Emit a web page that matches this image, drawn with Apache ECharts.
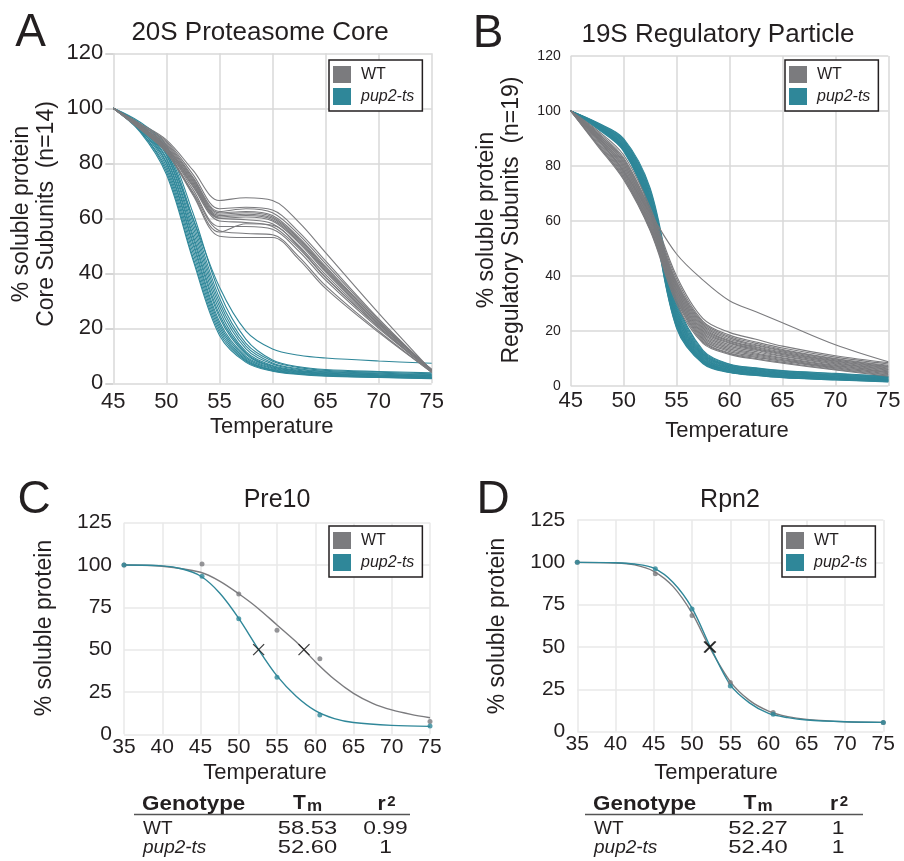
<!DOCTYPE html>
<html><head><meta charset="utf-8">
<script src="https://cdn.jsdelivr.net/npm/echarts@6/dist/echarts.min.js"></script>
<style>html,body{margin:0;padding:0;background:#fff}#c{width:904px;height:861px}</style>
</head><body><div id="c"></div>
<script>
const FONT = '"Liberation Sans", Arial, Helvetica, sans-serif';
const GRAY = '#7b7b7e', TEAL = '#2f8799', INK = '#231f20';

// ---------- Panel A: 20S core subunits ----------
const tempA = [45, 47.5, 50, 52.5, 55, 57.5, 60, 62.5, 65, 70, 75];
const coreWT = [
  [100, 94.5, 88.5, 77.5, 66.5, 67.5, 66.5, 58.5, 47.5, 25.5, 4.5],
  [100, 94, 88, 76, 63.5, 64, 63, 55, 44.5, 23.5, 4.5],
  [100, 94, 87.5, 75, 62.5, 63.5, 62, 54, 43.5, 23, 4.5],
  [100, 93.5, 87, 74.5, 62, 62.5, 61, 53, 42.5, 22.5, 4.5],
  [100, 93.5, 86.5, 74, 61.5, 62, 60.5, 52.5, 42, 22.5, 5],
  [100, 93.5, 86, 73.5, 61, 61.5, 60, 52, 41.5, 22, 5],
  [100, 93, 86, 73, 60.5, 61, 59.5, 51.5, 41, 21.5, 5],
  [100, 93, 85.5, 72.5, 60, 60.5, 59, 51, 40.5, 21.5, 5],
  [100, 93, 85.5, 72, 60, 59.5, 58, 50, 39.5, 21, 4.5],
  [100, 93, 85, 71.5, 59, 58.5, 57, 49, 38.5, 20.5, 4.5],
  [100, 92.5, 85, 70.5, 57, 57, 56, 48, 37.5, 20, 4.5],
  [100, 92.5, 84.5, 69, 55, 58, 57.5, 49.5, 38.5, 20.5, 4],
  [100, 92.5, 84, 69.5, 55.5, 54.5, 54, 46, 35.5, 19, 4],
  [100, 92.5, 84, 68.5, 53.5, 53, 53, 45, 34.5, 18.5, 4]
];
const corePup = [
  [100, 95, 86.5, 62, 33, 16, 8.5, 6, 5, 4.3, 3.8],
  [100, 94.5, 85.5, 60, 31, 14.5, 8, 5.7, 4.7, 4, 3.5],
  [100, 94, 84.5, 58.5, 29.5, 13.5, 7.4, 5.3, 4.4, 3.7, 3.2],
  [100, 94, 83.5, 57, 28, 12.5, 7, 5, 4.2, 3.5, 3],
  [100, 93.5, 83, 55.5, 26.5, 11.5, 6.5, 4.7, 3.9, 3.3, 2.8],
  [100, 93.5, 82, 54, 25, 11, 6.2, 4.5, 3.7, 3.1, 2.6],
  [100, 93, 81.5, 53, 24, 10.5, 5.9, 4.3, 3.5, 2.9, 2.4],
  [100, 93, 80.5, 51.5, 22.5, 9.8, 5.6, 4.1, 3.4, 2.8, 2.3],
  [100, 92.5, 80, 50.5, 21.5, 9.3, 5.3, 3.9, 3.2, 2.6, 2.1],
  [100, 92.5, 79, 49, 20.5, 8.8, 5, 3.7, 3.0, 2.5, 2],
  [100, 92, 78, 47.5, 19.5, 8.4, 4.8, 3.5, 2.9, 2.3, 1.9],
  [100, 92, 77, 46, 18.5, 8, 4.6, 3.4, 2.8, 2.2, 1.8],
  [100, 91.5, 76, 45, 17.5, 7.6, 4.4, 3.2, 2.6, 2.1, 1.7],
  [100, 94, 84, 60, 35, 19, 12.5, 10.2, 9.2, 8.1, 7.3]
];

// ---------- Panel B: 19S regulatory particle ----------
const tempB = [45, 47.5, 50, 52.5, 55, 57.5, 60, 62.5, 65, 70, 75];
const regWT = [
  [100, 90, 78, 63, 48, 38.5, 31, 27, 23, 15, 8.8],
  [100, 93, 84, 65, 40, 24.5, 19.5, 17, 14.5, 11, 8.5],
  [100, 92.5, 83, 64, 39, 23.5, 18.5, 16, 13.8, 10.5, 8],
  [100, 92, 82.5, 63.5, 38, 23, 18, 15.5, 13.3, 10, 7.5],
  [100, 92, 82, 63, 37.5, 22.5, 17.5, 15, 13, 9.8, 7.2],
  [100, 91.5, 81.5, 62.5, 37, 22, 17, 14.7, 12.7, 9.5, 7],
  [100, 91.5, 81, 62, 36.5, 21.5, 16.5, 14.3, 12.4, 9.2, 6.8],
  [100, 91, 80.5, 61.5, 36, 21, 16.2, 14, 12, 9, 6.5],
  [100, 91, 80, 61, 35.5, 20.5, 15.8, 13.6, 11.7, 8.7, 6.2],
  [100, 90.5, 79.5, 60.5, 35, 20, 15.5, 13.3, 11.4, 8.4, 6],
  [100, 90.5, 79, 60, 34.5, 19.5, 15, 13, 11, 8.1, 5.8],
  [100, 90, 78.5, 59.5, 34, 19, 14.5, 12.5, 10.7, 7.8, 5.5],
  [100, 90, 78, 59, 33.5, 18.5, 14, 12, 10.3, 7.5, 5.2],
  [100, 89.5, 77.5, 58.5, 33, 18, 13.5, 11.6, 10, 7.2, 5],
  [100, 89, 77, 58, 32.5, 17.5, 13, 11.2, 9.6, 6.9, 4.8],
  [100, 88.5, 76.5, 57.5, 32, 17, 12.5, 10.8, 9.3, 6.6, 4.5],
  [100, 88, 76, 57, 31.5, 16.5, 12, 10.4, 9, 6.3, 4.2],
  [100, 88, 75.5, 57, 31, 16, 11.8, 10, 8.6, 6, 4],
  [100, 87.5, 75, 56.5, 30, 15.5, 11.5, 9.7, 8.3, 5.8, 3.6]
];
const regPup = [
  [100, 95.8, 90, 72, 31, 13, 8, 6.6, 5.6, 4.6, 3.6],
  [100, 95.6, 89.6, 71.3, 30.2, 12.6, 7.8, 6.4, 5.4, 4.4, 3.4],
  [100, 95.5, 89.3, 70.7, 29.5, 12.2, 7.6, 6.2, 5.2, 4.2, 3.3],
  [100, 95.3, 89, 70.2, 28.8, 11.9, 7.4, 6.0, 5.0, 4.0, 3.1],
  [100, 95.2, 88.7, 69.6, 28.1, 11.6, 7.2, 5.8, 4.9, 3.9, 3.0],
  [100, 95.1, 88.4, 69.1, 27.5, 11.3, 7.0, 5.6, 4.7, 3.7, 2.9],
  [100, 95.0, 88.1, 68.6, 26.9, 11.0, 6.8, 5.5, 4.6, 3.6, 2.8],
  [100, 94.9, 87.8, 68.1, 26.3, 10.7, 6.6, 5.3, 4.4, 3.4, 2.6],
  [100, 94.8, 87.5, 67.7, 25.8, 10.4, 6.4, 5.1, 4.3, 3.3, 2.5],
  [100, 94.7, 87.3, 67.2, 25.2, 10.1, 6.2, 5.0, 4.1, 3.1, 2.4],
  [100, 94.6, 87.0, 66.8, 24.7, 9.8, 6.0, 4.8, 4.0, 3.0, 2.3],
  [100, 94.5, 86.8, 66.3, 24.2, 9.6, 5.9, 4.7, 3.8, 2.9, 2.2],
  [100, 94.4, 86.6, 65.9, 23.7, 9.3, 5.7, 4.5, 3.7, 2.8, 2.1],
  [100, 94.3, 86.4, 65.5, 23.2, 9.1, 5.6, 4.4, 3.6, 2.7, 2.0],
  [100, 94.2, 86.2, 65.1, 22.8, 8.9, 5.4, 4.3, 3.5, 2.6, 1.9],
  [100, 94.1, 86.0, 64.7, 22.3, 8.7, 5.3, 4.1, 3.3, 2.5, 1.8],
  [100, 94.0, 85.8, 64.3, 21.9, 8.5, 5.1, 4.0, 3.2, 2.4, 1.7],
  [100, 93.8, 85.6, 63.9, 21.4, 8.3, 5.0, 3.9, 3.1, 2.3, 1.6],
  [100, 93.6, 85.4, 63.5, 21.0, 8.1, 4.9, 3.8, 3.0, 2.2, 1.5]
];

// ---------- Panel C: Pre10 ----------
const pointTemps = [35, 45.2, 50, 55, 60.6, 75];
const pre10WTPts = [100, 100.6, 82.9, 61.4, 44.7, 7.5];
const pre10PupPts = [100, 93.3, 68.3, 33.7, 11.4, 4.9];
const pre10WTFitT = [35, 40, 45, 47.5, 50, 52.5, 55, 57.5, 58.53, 60, 62.5, 65, 67.5, 70, 72.5, 75];
const pre10WTFit = [100, 99.3, 95.7, 90.5, 83, 74.5, 64.6, 54.7, 50, 42.9, 32.5, 24.2, 18.3, 14.4, 11.8, 9.8];
const pre10PupFitT = [35, 40, 42.5, 45, 47.5, 50, 52.6, 55, 57.5, 60, 62.5, 65, 70, 75];
const pre10PupFit = [100, 99.5, 97.8, 93.5, 83.5, 68.5, 50, 34.5, 22.5, 14.0, 9.3, 7.0, 5.3, 4.7];
const pre10Tm = [52.60, 58.53];

// ---------- Panel D: Rpn2 ----------
const rpn2WTPts = [100, 93.3, 68.6, 29.0, 11.4, 5.5];
const rpn2PupPts = [100, 96.2, 72.4, 27.0, 10.3, 5.5];
const rpn2WTFitT = [35, 40, 42.5, 45, 47.5, 50, 52.27, 55, 57.5, 60, 62.5, 65, 70, 75];
const rpn2WTFit = [100, 99.6, 98.5, 94.7, 85.8, 70, 50, 29.6, 18.5, 12.2, 8.9, 7.3, 5.9, 5.5];
const rpn2PupFitT = [35, 40, 42.5, 45, 47.5, 50, 52.4, 55, 57.5, 60, 62.5, 65, 70, 75];
const rpn2PupFit = [100, 99.8, 99, 96.6, 88.3, 73, 50, 27.6, 17.0, 10.8, 8.3, 6.9, 5.9, 5.5];
const rpn2Tm = [52.27, 52.40];

// ---------- Tables ----------
const tableRowsC = [['WT', '58.53', '0.99'], ['pup2-ts', '52.60', '1']];
const tableRowsD = [['WT', '52.27', '1'], ['pup2-ts', '52.40', '1']];

const grids = [
  {left: 113.3, top: 53.3, width: 318.4, height: 330},
  {left: 570.7, top: 56, width: 317.6, height: 330},
  {left: 124, top: 522.7, width: 306, height: 211.6},
  {left: 577.3, top: 520, width: 306, height: 211.7}
];

function xAx(i, min, max, size, margin, splitColor) {
  return {type: 'value', gridIndex: i, min, max, interval: 5,
    axisLine: {show: false}, axisTick: {show: false},
    axisLabel: {fontFamily: FONT, fontSize: size, color: INK, margin},
    splitLine: {show: true, lineStyle: {color: splitColor, width: 1.5}}};
}
function yAx(i, max, interval, size, margin, splitColor, ticks) {
  return {type: 'value', gridIndex: i, min: 0, max, interval,
    axisLine: {show: false},
    axisTick: {show: ticks, length: 8, lineStyle: {color: '#c8c8c8', width: 1.5}},
    axisLabel: {fontFamily: FONT, fontSize: size, color: INK, margin},
    splitLine: {show: true, lineStyle: {color: splitColor, width: 1.5}}};
}

const series = [];
function curves(list, temps, name, color, gi, w) {
  list.forEach(v => series.push({
    type: 'line', name, xAxisIndex: gi, yAxisIndex: gi,
    data: temps.map((t, k) => [t, v[k]]), smooth: 0.35, symbol: 'none',
    lineStyle: {color, width: w}, itemStyle: {color}, silent: true
  }));
}
curves(corePup, tempA, 'pup2-ts', TEAL, 0, 1.1);
curves(coreWT, tempA, 'WT', GRAY, 0, 1.1);
curves(regPup, tempB, 'pup2-ts', TEAL, 1, 1.1);
curves(regWT, tempB, 'WT', GRAY, 1, 1.1);

function fit(temps, vals, name, color, gi) {
  series.push({type: 'line', name, xAxisIndex: gi, yAxisIndex: gi,
    data: temps.map((t, k) => [t, vals[k]]), smooth: 0.3, symbol: 'none',
    lineStyle: {color, width: 1.4}, itemStyle: {color}, silent: true});
}
function pts(vals, name, color, gi) {
  series.push({type: 'scatter', name, xAxisIndex: gi, yAxisIndex: gi,
    data: pointTemps.map((t, k) => [t, vals[k]]), symbol: 'circle', symbolSize: 5,
    itemStyle: {color}, silent: true, z: 4});
}
function tmMarks(tms, gi) {
  series.push({type: 'scatter', xAxisIndex: gi, yAxisIndex: gi,
    data: tms.map(t => [t, 50]), symbol: 'path://M0,0L10,10M10,0L0,10', symbolSize: 11,
    itemStyle: {color: 'none', borderColor: '#111', borderWidth: 1.3}, silent: true, z: 5});
}
fit(pre10WTFitT, pre10WTFit, 'WT', GRAY, 2);
fit(pre10PupFitT, pre10PupFit, 'pup2-ts', TEAL, 2);
pts(pre10WTPts, 'WT', GRAY, 2);
pts(pre10PupPts, 'pup2-ts', TEAL, 2);
tmMarks(pre10Tm, 2);
fit(rpn2WTFitT, rpn2WTFit, 'WT', GRAY, 3);
fit(rpn2PupFitT, rpn2PupFit, 'pup2-ts', TEAL, 3);
pts(rpn2WTPts, 'WT', GRAY, 3);
pts(rpn2PupPts, 'pup2-ts', TEAL, 3);
tmMarks(rpn2Tm, 3);

function legend(left, top) {
  return {orient: 'vertical', left, top, selectedMode: false,
    backgroundColor: '#fff', borderColor: INK, borderWidth: 1.5, borderRadius: 0,
    padding: [6, 8, 6, 4], itemWidth: 18, itemHeight: 17, itemGap: 5, icon: 'rect',
    textStyle: {fontFamily: FONT, fontSize: 16, color: INK, padding: [0, 0, 0, 5]},
    data: [{name: 'WT', itemStyle: {color: GRAY}},
           {name: 'pup2-ts', itemStyle: {color: TEAL}, textStyle: {fontStyle: 'italic'}}]};
}

const graphics = [];
function txt(text, x, y, size, o = {}) {
  graphics.push({type: 'text', x, y, rotation: o.rot || 0, scaleX: o.sx || 1, silent: true, z: 10,
    style: {text, font: [o.style || 'normal', o.weight || 'normal', size + 'px', FONT].join(' '),
      fill: o.fill || INK, textAlign: o.align || 'center', textVerticalAlign: 'middle'}});
}
// panel letters
txt('A', 30.5, 33, 46); txt('B', 488, 34, 46); txt('C', 34, 500, 46); txt('D', 493, 500, 46);
// titles
txt('20S Proteasome Core', 260, 33, 26);
txt('19S Regulatory Particle', 718, 35, 26);
txt('Pre10', 277, 500, 25);
txt('Rpn2', 730, 500, 25);
// axis titles
const R = Math.PI / 2;
txt('% soluble protein', 22, 214, 23, {rot: R});
txt('Core Subunits  (n=14)', 47, 214, 23, {rot: R});
txt('% soluble protein', 487, 220, 23, {rot: R});
txt('Regulatory Subunits  (n=19)', 512, 220, 23, {rot: R});
txt('% soluble protein', 45, 628, 23, {rot: R});
txt('% soluble protein', 498, 626, 23, {rot: R});
txt('Temperature', 271.7, 427, 22);
txt('Temperature', 727, 431, 22);
txt('Temperature', 265, 773, 22);
txt('Temperature', 716, 773, 22);

function table(x0, x1, tmX, r2X, rows) {
  txt('Genotype', x0 + 8, 804, 20, {weight: 'bold', align: 'left', sx: 1.12});
  txt('T', tmX - 8, 803.5, 21, {weight: 'bold'});
  txt('m', tmX + 7, 806, 17, {weight: 'bold'});
  txt('r', r2X - 4, 804, 21, {weight: 'bold'});
  txt('2', r2X + 6, 801.5, 15, {weight: 'bold'});
  graphics.push({type: 'line', silent: true, shape: {x1: x0, y1: 814.5, x2: x1, y2: 814.5},
    style: {stroke: '#555', lineWidth: 1.5}});
  rows.forEach((r, k) => {
    const y = 829 + k * 18.5;
    txt(r[0], x0 + 9, y, 19, {align: 'left', style: k === 1 ? 'italic' : 'normal'});
    txt(r[1], tmX, y, 19, {sx: 1.25});
    txt(r[2], r2X, y, 19, {sx: 1.2});
  });
}
table(134, 410, 307.5, 385.5, tableRowsC);
table(585, 863, 758, 838, tableRowsD);

const option = {
  animation: false,
  backgroundColor: '#fff',
  grid: grids.map(g => Object.assign({containLabel: false, outerBoundsMode: 'none'}, g)),
  xAxis: [
    xAx(0, 45, 75, 22, 8, '#d9d9d9'),
    xAx(1, 45, 75, 22, 4, '#d9d9d9'),
    xAx(2, 35, 75, 21, 2, '#e8e8e8'),
    xAx(3, 35, 75, 21, 2, '#e8e8e8')
  ],
  yAxis: [
    yAx(0, 120, 20, 22, 10, '#d9d9d9', true),
    yAx(1, 120, 20, 14, 10, '#d9d9d9', false),
    yAx(2, 125, 25, 21, 12, '#e8e8e8', false),
    yAx(3, 125, 25, 21, 12, '#e8e8e8', false)
  ],
  legend: [legend(329, 60), legend(785, 60), legend(329, 526), legend(782, 526)],
  series,
  graphic: {elements: graphics}
};
const chart = echarts.init(document.getElementById('c'));
chart.setOption(option);
</script>
</body></html>
